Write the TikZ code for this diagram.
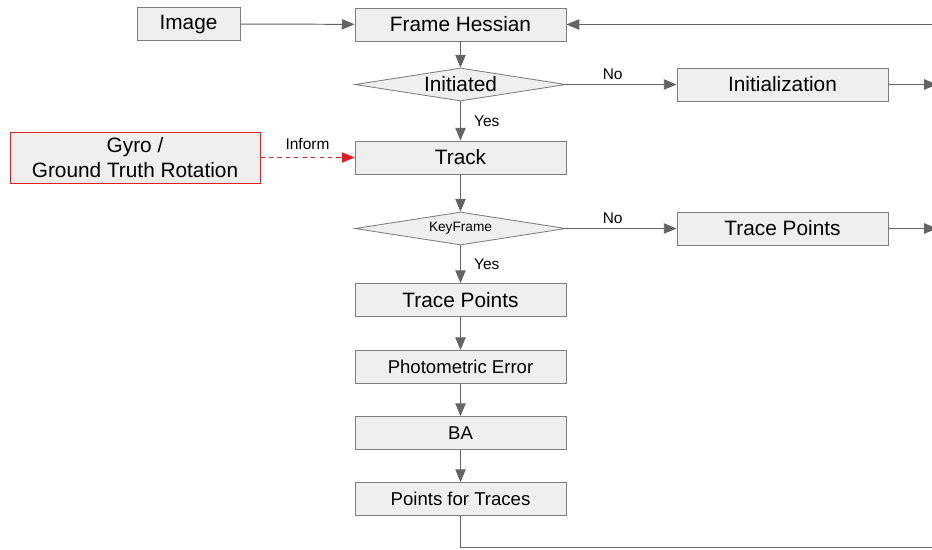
\documentclass[tikz,border=0pt]{standalone}
\usepackage{fontspec}
\setmainfont{Liberation Sans}
\usetikzlibrary{shapes.geometric,arrows.meta}
\definecolor{boxGray}{RGB}{239,239,239}
\definecolor{edgeGray}{RGB}{125,125,125}
\definecolor{lineGray}{RGB}{100,100,100}
\definecolor{gyroRed}{RGB}{225,30,35}

\begin{document}
\begin{tikzpicture}[
    x=0.025cm, y=-0.025cm,
    box/.style={rectangle, draw=edgeGray, fill=boxGray, line width=0.6pt, minimum width=5.275cm, minimum height=0.825cm, align=center, inner sep=0pt, font=\fontsize{14.8}{17.5}\selectfont},
    smallbox/.style={box, font=\fontsize{13.2}{16}\selectfont},
    decision/.style={diamond, draw=edgeGray, fill=boxGray, line width=0.6pt, aspect=6.4, minimum width=5.275cm, minimum height=0.825cm, inner sep=0pt, font=\fontsize{14.8}{17.5}\selectfont},
    arrow/.style={-{Triangle[length=3.2mm, width=2.6mm]}, line width=0.7pt, lineGray},
    lbl/.style={font=\fontsize{11}{13}\selectfont, text=black}
]
\clip (0,0) rectangle (932,549);
\useasboundingbox (0,0) rectangle (932,549);
% main column
\node[box, minimum width=2.575cm] (image) at (188.5,24) {Image};
\node[box] (hessian) at (460.5,24.5) {Frame Hessian};
\node[decision] (initiated) at (460.5,84.5) {Initiated};
\node[box] (init) at (782.5,84.5) {Initialization};
\node[box] (track) at (460.5,157.5) {Track};
\node[box, draw=gyroRed, minimum width=6.25cm, minimum height=1.275cm] (gyro) at (135,157.5) {Gyro /\\Ground Truth Rotation};
\node[decision, font=\fontsize{9.7}{12}\selectfont] (keyframe) at (460.5,228.5) {KeyFrame};
\node[box] (traceR) at (782.5,228.5) {Trace Points};
\node[box] (trace) at (460.5,300) {Trace Points};
\node[smallbox] (photo) at (460.5,367) {Photometric Error};
\node[smallbox] (ba) at (460.5,433) {BA};
\node[smallbox] (pft) at (460.5,499) {Points for Traces};
% loose ends at the right border
\coordinate (initOut) at (937,84.5);
\coordinate (traceOut) at (937,228.5);
\coordinate (loopIn) at (933,24.5);
\coordinate (loopOut) at (933,547);

\draw[arrow] (image) -- (hessian);
\draw[arrow] (hessian) -- (initiated);
\draw[arrow] (initiated) -- node[lbl, above, pos=0.42] {No} (init);
\draw[arrow] (initiated) -- node[lbl, right, xshift=6pt] {Yes} (track);
\draw[arrow, gyroRed, dashed] (gyro) -- node[lbl, above, yshift=2pt] {Inform} (track);
\draw[arrow] (track) -- (keyframe);
\draw[arrow] (keyframe) -- node[lbl, above, pos=0.42] {No} (traceR);
\draw[arrow] (keyframe) -- node[lbl, right, xshift=6pt] {Yes} (trace);
\draw[arrow] (trace) -- (photo);
\draw[arrow] (photo) -- (ba);
\draw[arrow] (ba) -- (pft);
\draw[arrow] (init) -- (initOut);
\draw[arrow] (traceR) -- (traceOut);
\draw[line width=0.7pt, lineGray] (pft) |- (loopOut);
\draw[arrow] (loopIn) -- (hessian);
\end{tikzpicture}
\end{document}
